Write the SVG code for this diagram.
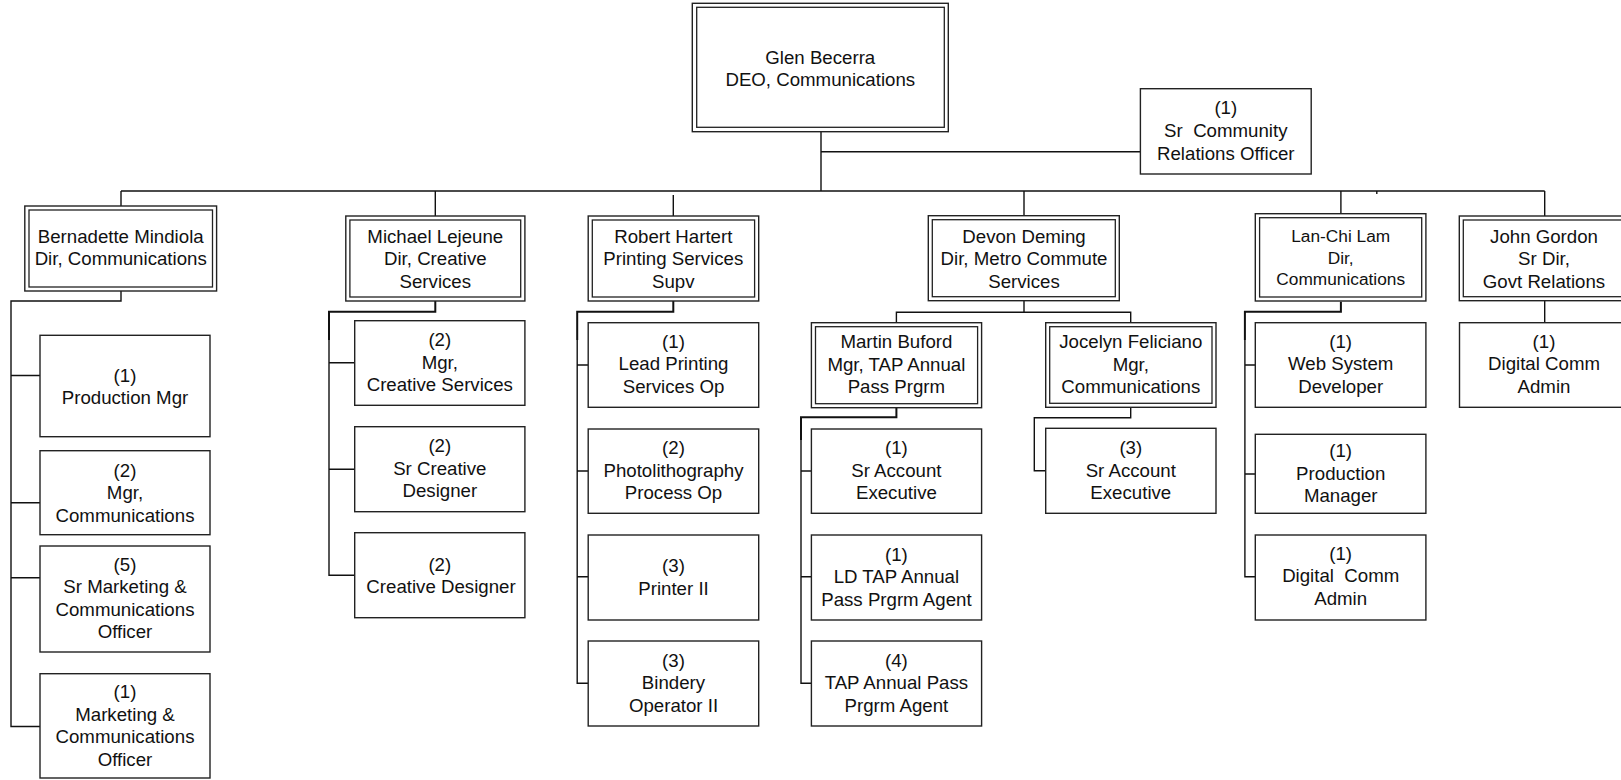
<svg xmlns="http://www.w3.org/2000/svg" width="1621" height="780" viewBox="0 0 1621 780">
<style>
.bg{fill:#fff}
.box{fill:#fff;stroke:#222;stroke-width:1.4}
.in{fill:none;stroke:#222;stroke-width:1.3}
.ln{fill:none;stroke:#111;stroke-width:1.4}
.lt{fill:none;stroke:#111;stroke-width:2}
text{font-family:"Liberation Sans",Arial,Helvetica,sans-serif;font-size:18.67px;fill:#111;text-anchor:middle;white-space:pre}
.sm{font-size:17.3px}
</style>
<rect class="bg" x="0" y="0" width="1621" height="780"/>
<g id="connectors">
<path class="ln" d="M821,131.7V191M821,151.7H1140.4M121,191H1544.7"/>
<path class="ln" d="M121,191V206M435.3,191V216M673.3,195V216M1024,191V215.7M1340.9,191V213.7M1544.7,191V216M1376.8,191V194"/>
<path class="ln" d="M121,291V301H11V726.5H40M11,375.5H40M11,502.7H40M11,577.7H40"/>
<path class="lt" d="M435.3,301V311.7H329V340"/>
<path class="ln" d="M329,340V575.3H354.7M329,362.7H354.7M329,469.3H354.7"/>
<path class="lt" d="M673.3,301V311.7H577.2V340"/>
<path class="ln" d="M577.2,340V683.3H588.2M577.2,365H588.2M577.2,471H588.2M577.2,576.7H588.2"/>
<path class="ln" d="M1024,300.7V312.3M896.4,322.7V312.3H1130.7V322.7"/>
<path class="lt" d="M896.4,407.7V417.3H801V440"/>
<path class="ln" d="M801,440V683.3H811.4M801,471H811.4M801,576.7H811.4"/>
<path class="ln" d="M1130.7,407.3V417.7H1034.3V470.7H1045.7"/>
<path class="lt" d="M1340.9,301.7V311.7H1244.9V340"/>
<path class="ln" d="M1244.9,340V576.7H1255.3M1244.9,365H1255.3M1244.9,474H1255.3"/>
<path class="ln" d="M1544.7,300.7V322.7"/>
</g>
<g id="glen">
<rect class="box" x="692.3" y="3.3" width="256" height="128.4"/>
<rect class="in" x="696.7" y="7.3" width="247.6" height="120"/>
<text x="820.3" y="63.5">Glen Becerra</text>
<text x="820.3" y="86">DEO, Communications</text>
</g>
<g id="srcomm">
<rect class="box" x="1140.4" y="88.7" width="170.8" height="85.3"/>
<text x="1225.8" y="114">(1)</text>
<text x="1225.8" y="137">Sr  Community</text>
<text x="1225.8" y="160">Relations Officer</text>
</g>
<g id="bernadette">
<rect class="box" x="24.8" y="206" width="191.8" height="85"/>
<rect class="in" x="29" y="210" width="183.5" height="77"/>
<text x="120.7" y="242.7">Bernadette Mindiola</text>
<text x="120.7" y="265">Dir, Communications</text>
</g>
<g id="b1">
<rect class="box" x="40" y="335.3" width="170" height="101.4"/>
<text x="125" y="381.5">(1)</text>
<text x="125" y="404">Production Mgr</text>
</g>
<g id="b2">
<rect class="box" x="40" y="450.7" width="170" height="84"/>
<text x="125" y="476.5">(2)</text>
<text x="125" y="499">Mgr,</text>
<text x="125" y="521.5">Communications</text>
</g>
<g id="b3">
<rect class="box" x="40" y="546" width="170" height="106"/>
<text x="125" y="570.5">(5)</text>
<text x="125" y="593">Sr Marketing &amp;</text>
<text x="125" y="615.5">Communications</text>
<text x="125" y="638">Officer</text>
</g>
<g id="b4">
<rect class="box" x="40" y="673.7" width="170" height="104.3"/>
<text x="125" y="698">(1)</text>
<text x="125" y="720.5">Marketing &amp;</text>
<text x="125" y="743">Communications</text>
<text x="125" y="765.5">Officer</text>
</g>
<g id="michael">
<rect class="box" x="345.8" y="216" width="179.1" height="85"/>
<rect class="in" x="349.9" y="220" width="170.8" height="77"/>
<text x="435.3" y="242.5">Michael Lejeune</text>
<text x="435.3" y="265">Dir, Creative</text>
<text x="435.3" y="287.5">Services</text>
</g>
<g id="m1">
<rect class="box" x="354.7" y="320.7" width="170.2" height="84.6"/>
<text x="439.8" y="346">(2)</text>
<text x="439.8" y="368.5">Mgr,</text>
<text x="439.8" y="391">Creative Services</text>
</g>
<g id="m2">
<rect class="box" x="354.7" y="426.7" width="170.2" height="85"/>
<text x="439.8" y="452.2">(2)</text>
<text x="439.8" y="474.7">Sr Creative</text>
<text x="439.8" y="497.2">Designer</text>
</g>
<g id="m3">
<rect class="box" x="354.7" y="532.7" width="170.2" height="85"/>
<text x="439.8" y="570.5">(2)</text>
<text x="441" y="593">Creative Designer</text>
</g>
<g id="robert">
<rect class="box" x="588.2" y="216" width="170.5" height="85"/>
<rect class="in" x="592.3" y="220" width="162.3" height="77"/>
<text x="673.3" y="242.5">Robert Hartert</text>
<text x="673.3" y="265">Printing Services</text>
<text x="673.3" y="287.5">Supv</text>
</g>
<g id="r1">
<rect class="box" x="588.2" y="322.7" width="170.5" height="84.6"/>
<text x="673.5" y="347.8">(1)</text>
<text x="673.5" y="370.3">Lead Printing</text>
<text x="673.5" y="392.8">Services Op</text>
</g>
<g id="r2">
<rect class="box" x="588.2" y="429" width="170.5" height="84.3"/>
<text x="673.5" y="454">(2)</text>
<text x="673.5" y="476.5">Photolithography</text>
<text x="673.5" y="499">Process Op</text>
</g>
<g id="r3">
<rect class="box" x="588.2" y="535" width="170.5" height="85"/>
<text x="673.5" y="572">(3)</text>
<text x="673.5" y="594.5">Printer II</text>
</g>
<g id="r4">
<rect class="box" x="588.2" y="641" width="170.5" height="85"/>
<text x="673.5" y="666.5">(3)</text>
<text x="673.5" y="689">Bindery</text>
<text x="673.5" y="711.5">Operator II</text>
</g>
<g id="devon">
<rect class="box" x="928.3" y="215.7" width="191" height="85"/>
<rect class="in" x="932.3" y="219.7" width="183" height="77"/>
<text x="1024" y="242.5">Devon Deming</text>
<text x="1024" y="265">Dir, Metro Commute</text>
<text x="1024" y="287.5">Services</text>
</g>
<g id="martin">
<rect class="box" x="811.4" y="322.7" width="170.2" height="85"/>
<rect class="in" x="815.5" y="326.7" width="162.1" height="77"/>
<text x="896.4" y="348.3">Martin Buford</text>
<text x="896.4" y="370.8">Mgr, TAP Annual</text>
<text x="896.4" y="393.3">Pass Prgrm</text>
</g>
<g id="mc1">
<rect class="box" x="811.4" y="429" width="170.2" height="84.3"/>
<text x="896.4" y="454">(1)</text>
<text x="896.4" y="476.5">Sr Account</text>
<text x="896.4" y="499">Executive</text>
</g>
<g id="mc2">
<rect class="box" x="811.4" y="535" width="170.2" height="85"/>
<text x="896.4" y="560.5">(1)</text>
<text x="896.4" y="583">LD TAP Annual</text>
<text x="896.4" y="605.5">Pass Prgrm Agent</text>
</g>
<g id="mc3">
<rect class="box" x="811.4" y="641" width="170.2" height="85"/>
<text x="896.4" y="666.5">(4)</text>
<text x="896.4" y="689">TAP Annual Pass</text>
<text x="896.4" y="711.5">Prgrm Agent</text>
</g>
<g id="jocelyn">
<rect class="box" x="1045.7" y="322.7" width="170.3" height="84.6"/>
<rect class="in" x="1049.7" y="326.7" width="162.3" height="76.6"/>
<text x="1130.8" y="348.3">Jocelyn Feliciano</text>
<text x="1130.8" y="370.8">Mgr,</text>
<text x="1130.8" y="393.3">Communications</text>
</g>
<g id="j1">
<rect class="box" x="1045.7" y="428.3" width="170.3" height="85"/>
<text x="1130.8" y="454">(3)</text>
<text x="1130.8" y="476.5">Sr Account</text>
<text x="1130.8" y="499">Executive</text>
</g>
<g id="lanchi">
<rect class="box" x="1255.3" y="213.7" width="170.6" height="87.3"/>
<rect class="in" x="1259.6" y="217.7" width="162.1" height="79.3"/>
<text class="sm" x="1340.7" y="242">Lan-Chi Lam</text>
<text class="sm" x="1340.7" y="263.5">Dir,</text>
<text class="sm" x="1340.7" y="284.5">Communications</text>
</g>
<g id="l1">
<rect class="box" x="1255.3" y="322.7" width="170.6" height="84.6"/>
<text x="1340.7" y="347.8">(1)</text>
<text x="1340.7" y="370.3">Web System</text>
<text x="1340.7" y="392.8">Developer</text>
</g>
<g id="l2">
<rect class="box" x="1255.3" y="434.3" width="170.6" height="79"/>
<text x="1340.7" y="457.2">(1)</text>
<text x="1340.7" y="479.7">Production</text>
<text x="1340.7" y="502.2">Manager</text>
</g>
<g id="l3">
<rect class="box" x="1255.3" y="535" width="170.6" height="85"/>
<text x="1340.7" y="559.5">(1)</text>
<text x="1340.7" y="582">Digital  Comm</text>
<text x="1340.7" y="604.5">Admin</text>
</g>
<g id="john">
<rect class="box" x="1459.3" y="216" width="169.7" height="84.7"/>
<rect class="in" x="1463.3" y="220" width="161.7" height="76.7"/>
<text x="1544" y="242.5">John Gordon</text>
<text x="1544" y="265">Sr Dir,</text>
<text x="1544" y="287.5">Govt Relations</text>
</g>
<g id="jg1">
<rect class="box" x="1459.5" y="322.7" width="169.5" height="84.6"/>
<text x="1544" y="347.8">(1)</text>
<text x="1544" y="370.3">Digital Comm</text>
<text x="1544" y="392.8">Admin</text>
</g>
</svg>
